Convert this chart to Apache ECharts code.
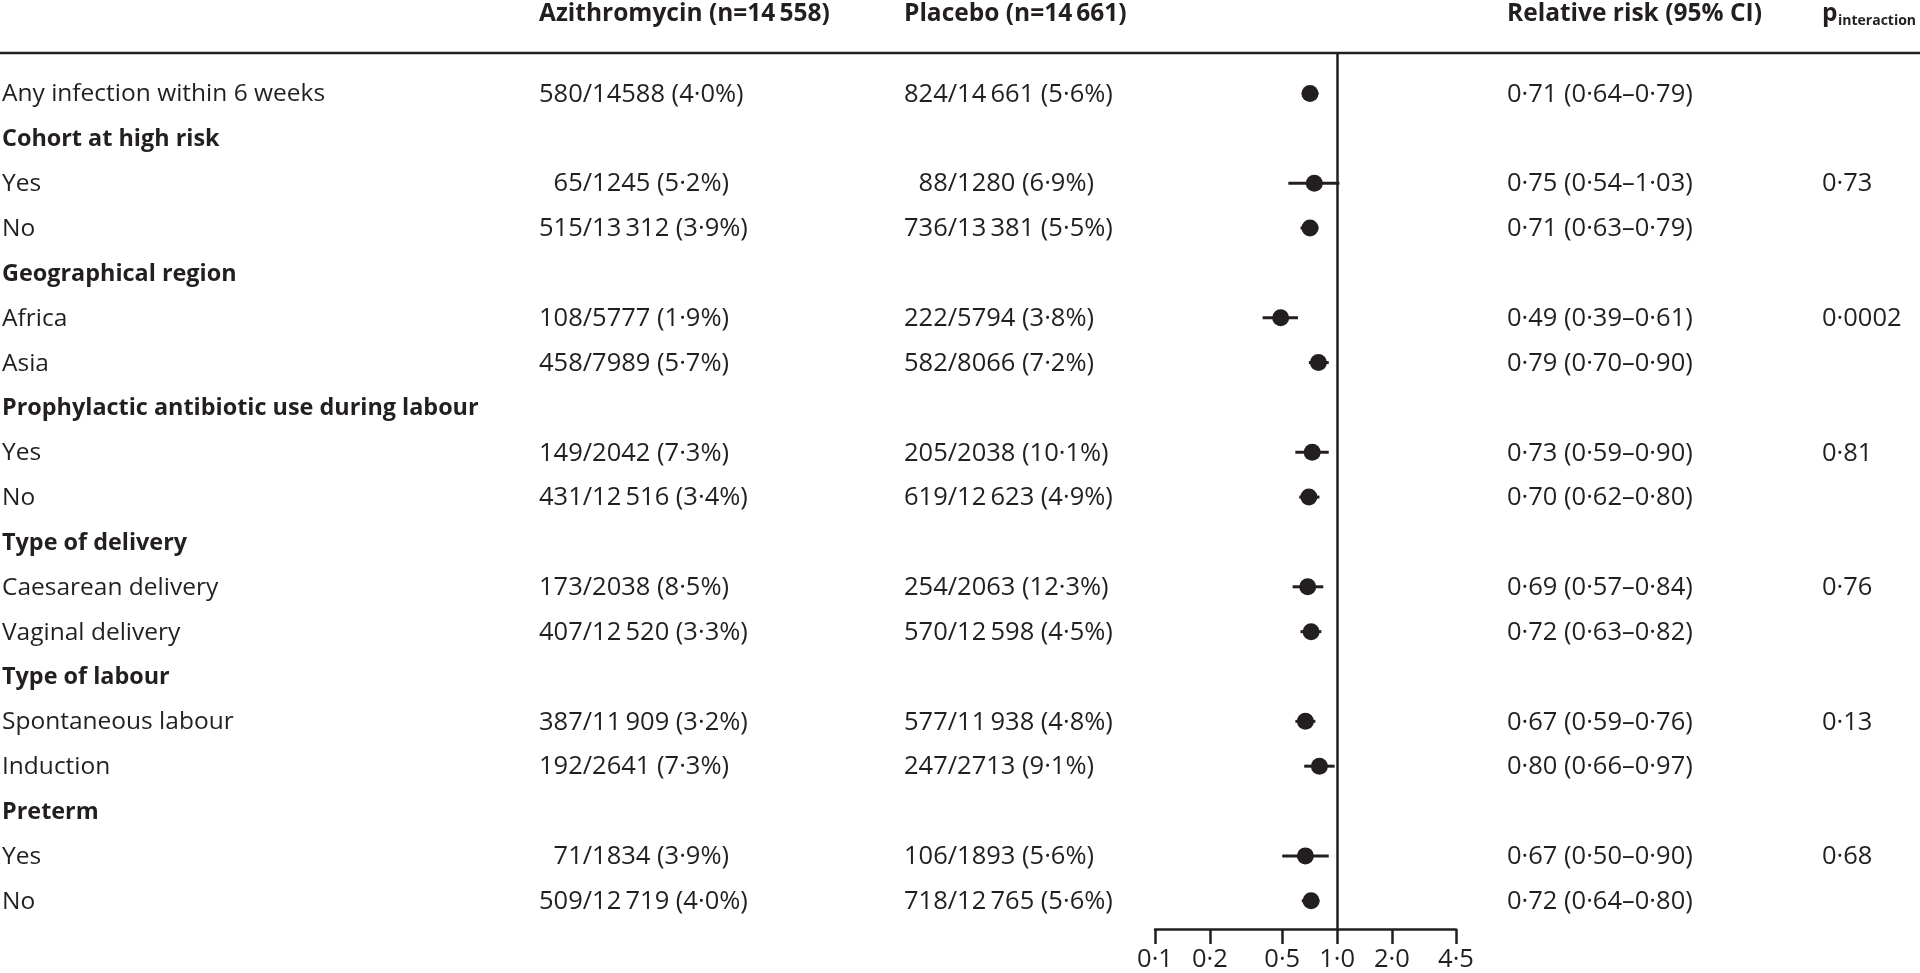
<!DOCTYPE html>
<html>
<head>
<meta charset="utf-8">
<script src="https://cdn.jsdelivr.net/npm/echarts@6/dist/echarts.min.js"></script>
<style>
html,body{margin:0;padding:0;background:#fff;}
#chart{width:1920px;height:973px;}
</style>
</head>
<body>
<div id="chart"></div>
<script>
// ---------------- DATA ----------------
const headers = ['Azithromycin (n=14\u2009558)', 'Placebo (n=14\u2009661)', 'Relative risk (95% CI)'];
const pHeaderMain = 'p';
const pHeaderSub = 'interaction';

const rowLabels = [
  'Any infection within 6 weeks',
  'Cohort at high risk',
  'Yes',
  'No',
  'Geographical region',
  'Africa',
  'Asia',
  'Prophylactic antibiotic use during labour',
  'Yes',
  'No',
  'Type of delivery',
  'Caesarean delivery',
  'Vaginal delivery',
  'Type of labour',
  'Spontaneous labour',
  'Induction',
  'Preterm',
  'Yes',
  'No'
];
const headingRows = [1, 4, 7, 10, 13, 16];

const azithromycin = [
  '580/14588 (4·0%)', '', '65/1245 (5·2%)', '515/13\u2009312 (3·9%)', '',
  '108/5777 (1·9%)', '458/7989 (5·7%)', '', '149/2042 (7·3%)', '431/12\u2009516 (3·4%)', '',
  '173/2038 (8·5%)', '407/12\u2009520 (3·3%)', '', '387/11\u2009909 (3·2%)', '192/2641 (7·3%)', '',
  '71/1834 (3·9%)', '509/12\u2009719 (4·0%)'
];
const placebo = [
  '824/14\u2009661 (5·6%)', '', '88/1280 (6·9%)', '736/13\u2009381 (5·5%)', '',
  '222/5794 (3·8%)', '582/8066 (7·2%)', '', '205/2038 (10·1%)', '619/12\u2009623 (4·9%)', '',
  '254/2063 (12·3%)', '570/12\u2009598 (4·5%)', '', '577/11\u2009938 (4·8%)', '247/2713 (9·1%)', '',
  '106/1893 (5·6%)', '718/12\u2009765 (5·6%)'
];
const relativeRisk = [0.71, null, 0.75, 0.71, null, 0.49, 0.79, null, 0.73, 0.70, null, 0.69, 0.72, null, 0.67, 0.80, null, 0.67, 0.72];
const ciLow        = [0.64, null, 0.54, 0.63, null, 0.39, 0.70, null, 0.59, 0.62, null, 0.57, 0.63, null, 0.59, 0.66, null, 0.50, 0.64];
const ciHigh       = [0.79, null, 1.03, 0.79, null, 0.61, 0.90, null, 0.90, 0.80, null, 0.84, 0.82, null, 0.76, 0.97, null, 0.90, 0.80];
const pInteraction = ['', '', '0·73', '', '', '0·0002', '', '', '0·81', '', '', '0·76', '', '', '0·13', '', '', '0·68', ''];

const xTicks = [0.1, 0.2, 0.5, 1, 2, 4.5];

// ---------------- LAYOUT / STYLE ----------------
const INK = '#231f20';
const FONT = '"Open Sans", "Noto Sans", sans-serif';
const FS = 24.5;        // row labels
const FS_BOLD = 23.4;   // bold group headings
const FS_NUM = 25.5;    // numeric columns
const FS_HEAD = 24.5;   // column headers
const ROW0_Y = 93.5, ROW_H = 44.9;      // pixel centre of row 0 and row pitch
const GRID_TOP = 53, GRID_BOTTOM_Y = 930;
const COL_X = { label: 2, azi: 539, pla: 904, rr: 1507, p: 1822 };
const TEXT_DY = 1;

const fmt = v => v.toFixed(2).replace('.', '·');
const tickFmt = v => (v < 1 ? String(v) : (Number.isInteger(v) ? v.toFixed(1) : String(v))).replace('.', '·');
const padNum = s => {
  if (!s) return s;
  const num = s.split('/')[0];
  return '\u2007'.repeat(Math.max(0, 3 - num.length)) + s;
};

const yMin = (GRID_TOP - ROW0_Y) / ROW_H;
const yMax = (GRID_BOTTOM_Y - ROW0_Y) / ROW_H;

const pointData = [], ciData = [], textData = [];
rowLabels.forEach((lab, i) => {
  textData.push([1, i]);
  if (relativeRisk[i] != null) {
    pointData.push([relativeRisk[i], i]);
    ciData.push([ciLow[i], ciHigh[i], i]);
  }
});

const chart = echarts.init(document.getElementById('chart'), null, { renderer: 'canvas' });

function txt(x, y, s, bold, size) {
  return {
    type: 'text',
    style: {
      x: x, y: y + TEXT_DY, text: s, fill: INK,
      font: (bold ? 'bold ' : '') + size + 'px ' + FONT,
      textAlign: 'left', textVerticalAlign: 'middle'
    }
  };
}

const headFont = 'bold ' + FS_HEAD + 'px ' + FONT;
const option = {
  animation: false,
  backgroundColor: '#fff',
  grid: { left: 1155, right: 1920 - 1456, top: GRID_TOP, bottom: 973 - GRID_BOTTOM_Y, containLabel: false },
  xAxis: {
    type: 'log', logBase: 10, min: 0.1, max: 4.5,
    axisLine: { show: true, onZero: false, lineStyle: { color: INK, width: 2.5 } },
    axisTick: { show: true, customValues: xTicks, length: 15, inside: false, lineStyle: { color: INK, width: 2.5 } },
    axisLabel: { show: true, customValues: xTicks, formatter: tickFmt, color: INK, fontSize: FS_NUM, fontFamily: FONT, margin: 18 },
    splitLine: { show: false },
    minorTick: { show: false }
  },
  yAxis: {
    type: 'value', inverse: true, min: yMin, max: yMax, show: false
  },
  graphic: [
    { type: 'line', shape: { x1: 0, y1: GRID_TOP, x2: 1920, y2: GRID_TOP }, style: { stroke: INK, lineWidth: 2.5 }, z: 10 },
    { type: 'text', style: { x: COL_X.azi, y: 14, text: headers[0], fill: INK, font: headFont, textVerticalAlign: 'middle' } },
    { type: 'text', style: { x: COL_X.pla, y: 14, text: headers[1], fill: INK, font: headFont, textVerticalAlign: 'middle' } },
    { type: 'text', style: { x: COL_X.rr, y: 14, text: headers[2], fill: INK, font: headFont, textVerticalAlign: 'middle' } },
    { type: 'text', style: { x: COL_X.p, y: 14, text: pHeaderMain, fill: INK, font: headFont, textVerticalAlign: 'middle' } },
    { type: 'text', style: { x: COL_X.p + 16, y: 21, text: pHeaderSub, fill: INK, font: 'bold 14px ' + FONT, textVerticalAlign: 'middle' } }
  ],
  series: [
    {
      name: 'table', type: 'custom', data: textData, encode: { x: 0, y: 1 }, silent: true, clip: false,
      renderItem: function (params, api) {
        const i = api.value(1);
        const y = api.coord([1, i])[1];
        const bold = headingRows.indexOf(i) >= 0;
        const ch = [txt(COL_X.label, y, rowLabels[i], bold, bold ? FS_BOLD : FS)];
        if (azithromycin[i]) ch.push(txt(COL_X.azi, y, padNum(azithromycin[i]), false, FS_NUM));
        if (placebo[i]) ch.push(txt(COL_X.pla, y, padNum(placebo[i]), false, FS_NUM));
        if (relativeRisk[i] != null) ch.push(txt(COL_X.rr, y, fmt(relativeRisk[i]) + ' (' + fmt(ciLow[i]) + '–' + fmt(ciHigh[i]) + ')', false, FS_NUM));
        if (pInteraction[i]) ch.push(txt(COL_X.p, y, pInteraction[i], false, FS_NUM));
        return { type: 'group', children: ch };
      }
    },
    {
      name: 'ci', type: 'custom', data: ciData, encode: { x: [0, 1], y: 2 }, silent: true, z: 3,
      renderItem: function (params, api) {
        const i = api.value(2);
        const a = api.coord([api.value(0), i]);
        const b = api.coord([api.value(1), i]);
        return { type: 'line', shape: { x1: a[0], y1: a[1], x2: b[0], y2: b[1] }, style: { stroke: INK, lineWidth: 3 } };
      }
    },
    {
      name: 'rr', type: 'scatter', data: pointData, symbol: 'circle', symbolSize: 17, z: 4,
      itemStyle: { color: INK, opacity: 1 }, silent: true,
      markLine: {
        silent: true, symbol: ['none', 'none'], label: { show: false },
        lineStyle: { color: INK, width: 2.5, type: 'solid' },
        data: [{ xAxis: 1 }]
      }
    }
  ]
};
chart.setOption(option);
</script>
</body>
</html>
